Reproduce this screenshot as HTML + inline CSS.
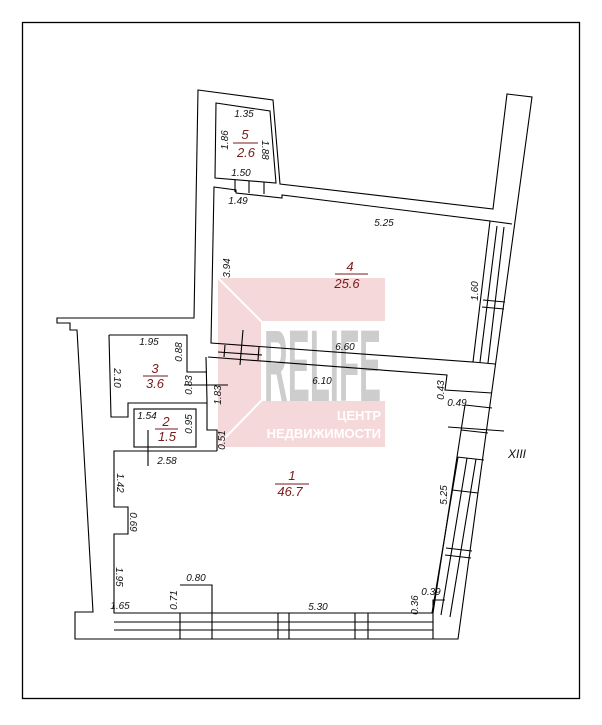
<!DOCTYPE html>
<html><head><meta charset="utf-8"><style>
html,body{margin:0;padding:0;background:#fff}
svg{display:block}
text{font-family:"Liberation Sans",sans-serif;font-style:italic;font-size:10px;fill:#111}
.r{fill:#7a1a1a;font-size:13px}
</style></head><body>
<svg width="602" height="725" viewBox="0 0 602 725" xmlns="http://www.w3.org/2000/svg">
<rect x="0" y="0" width="602" height="725" fill="#fff"/>
<rect x="22.5" y="22.5" width="557" height="676" fill="none" stroke="#000" stroke-width="1.3"/>
<g>
<path d="M218 278 H385 V447 H218 Z" fill="#f4d8da"/>
<path d="M218 278 L262 322 V400 L218 445" fill="none" stroke="#fff" stroke-width="2"/>
<rect x="263" y="321" width="122" height="80" fill="#fff"/>
<text x="264" y="401" style="font-style:normal;font-weight:bold;font-size:102px;fill:#cdcdcd" textLength="117" lengthAdjust="spacingAndGlyphs">RELIFE</text>
<text x="381" y="420" text-anchor="end" style="font-style:normal;font-weight:bold;font-size:13px;fill:#fff">ЦЕНТР</text>
<text x="381" y="438" text-anchor="end" style="font-style:normal;font-weight:bold;font-size:13px;fill:#fff">НЕДВИЖИМОСТИ</text>
</g>
<g fill="none" stroke="#000" stroke-width="1.1">
<path d="M198 90 L273 100 L280 184 L493 209 L507 94 L532 97 L458 639 L75 639 L75 612 L93 612 L77 330 L70 330 L70 323 L57 323 L57 318 L194 318 Z"/>
<path d="M216 103 L270 111 L276 183 L215 178 Z"/>
<path d="M235 180 L235 192 M249 181 L249 193 M264 182 L264 194"/>
<path d="M214 187 L236 190 L236 193 L282 198 L282 195 L490 221 L473 362 L211 343 Z"/>
<path d="M490 221 L512 224 M473 362 L495 364 M497 226 L480 362 M504 227 L488 363 M483 300 L505 302 M482 307 L504 309"/>
<path d="M208 357 L447 375 L445 390 L492 393"/>
<path d="M225 345 L224 357 M259 347 L258 360"/>
<path d="M217 451 L217 430 L207 430 L207 400 L206 357"/>
<path d="M465 405 L433 613 L114 613 L114 534 L128 534 L128 507 L114 507 L114 451 L217 451"/>
<path d="M465 405 L492 408 M461 430 L488 433 M457 457 L484 460 M452 490 L478 493 M446 548 L472 551 M445 555 L471 558"/>
<path d="M458 457 L432 613 M467 458 L441 615 M476 459 L450 617"/>
<path d="M433 613 L433 600 L445 600"/>
<path d="M114 622 H433 M114 630 H433 M180 613 V639 M180 585 H212 V639 M278 613 V639 M289 613 V639 M355 613 V639 M368 613 V639 M433 613 V639"/>
<path d="M109 335 L187 335 L187 372 L207 372 M207 403 L128 403 L128 417 L111 417 L109 335"/>
<rect x="134" y="409" width="62" height="38"/>
<path d="M243 330 L240 365 M218 352 L262 355 M448 427 L504 431 M184 385 L228 385 M148 430 L148 466"/>
</g>
<text x="244" y="117" text-anchor="middle">1.35</text>
<text transform="translate(228,140) rotate(-90)" text-anchor="middle">1.86</text>
<text x="245" y="139" text-anchor="middle" class="r">5</text>
<path d="M233 143 H258" stroke="#7a1a1a"/>
<text x="246" y="157" text-anchor="middle" class="r">2.6</text>
<text transform="translate(262,150) rotate(90)" text-anchor="middle">1.88</text>
<text x="241" y="176" text-anchor="middle">1.50</text>
<text x="238" y="204" text-anchor="middle">1.49</text>
<text x="384" y="226" text-anchor="middle">5.25</text>
<text transform="translate(230,268) rotate(-90)" text-anchor="middle">3.94</text>
<text x="350" y="271" text-anchor="middle" class="r">4</text>
<path d="M335 274 H368" stroke="#7a1a1a"/>
<text x="347" y="288" text-anchor="middle" class="r">25.6</text>
<text transform="translate(478,291) rotate(-90)" text-anchor="middle">1.60</text>
<text x="345" y="350" text-anchor="middle">6.60</text>
<text x="322" y="384" text-anchor="middle">6.10</text>
<text transform="translate(444,390) rotate(-90)" text-anchor="middle">0.43</text>
<text x="457" y="406" text-anchor="middle">0.49</text>
<text x="517" y="458" text-anchor="middle" style="font-size:12px">XIII</text>
<text x="149" y="345" text-anchor="middle">1.95</text>
<text transform="translate(182,352) rotate(-90)" text-anchor="middle">0.88</text>
<text transform="translate(114,378) rotate(90)" text-anchor="middle">2.10</text>
<text x="155" y="373" text-anchor="middle" class="r">3</text>
<path d="M143 376 H168" stroke="#7a1a1a"/>
<text x="155" y="388" text-anchor="middle" class="r">3.6</text>
<text transform="translate(192,385) rotate(-90)" text-anchor="middle">0.83</text>
<text transform="translate(221,395) rotate(-90)" text-anchor="middle">1.83</text>
<text x="147" y="419" text-anchor="middle">1.54</text>
<text x="166" y="426" text-anchor="middle" class="r">2</text>
<path d="M155 429 H178" stroke="#7a1a1a"/>
<text x="167" y="441" text-anchor="middle" class="r">1.5</text>
<text transform="translate(192,424) rotate(-90)" text-anchor="middle">0.95</text>
<text transform="translate(225,440) rotate(-90)" text-anchor="middle">0.51</text>
<text x="167" y="464" text-anchor="middle">2.58</text>
<text transform="translate(117,483) rotate(90)" text-anchor="middle">1.42</text>
<text transform="translate(130,522) rotate(90)" text-anchor="middle">0.69</text>
<text transform="translate(116,577) rotate(90)" text-anchor="middle">1.95</text>
<text x="120" y="609" text-anchor="middle">1.65</text>
<text transform="translate(177,600) rotate(-90)" text-anchor="middle">0.71</text>
<text x="196" y="581" text-anchor="middle">0.80</text>
<text x="318" y="610" text-anchor="middle">5.30</text>
<text x="292" y="480" text-anchor="middle" class="r">1</text>
<path d="M275 484 H309" stroke="#7a1a1a"/>
<text x="290" y="496" text-anchor="middle" class="r">46.7</text>
<text transform="translate(447,495) rotate(-90)" text-anchor="middle">5.25</text>
<text transform="translate(418,605) rotate(-90)" text-anchor="middle">0.36</text>
<text x="431" y="595" text-anchor="middle">0.39</text>
</svg>
</body></html>
